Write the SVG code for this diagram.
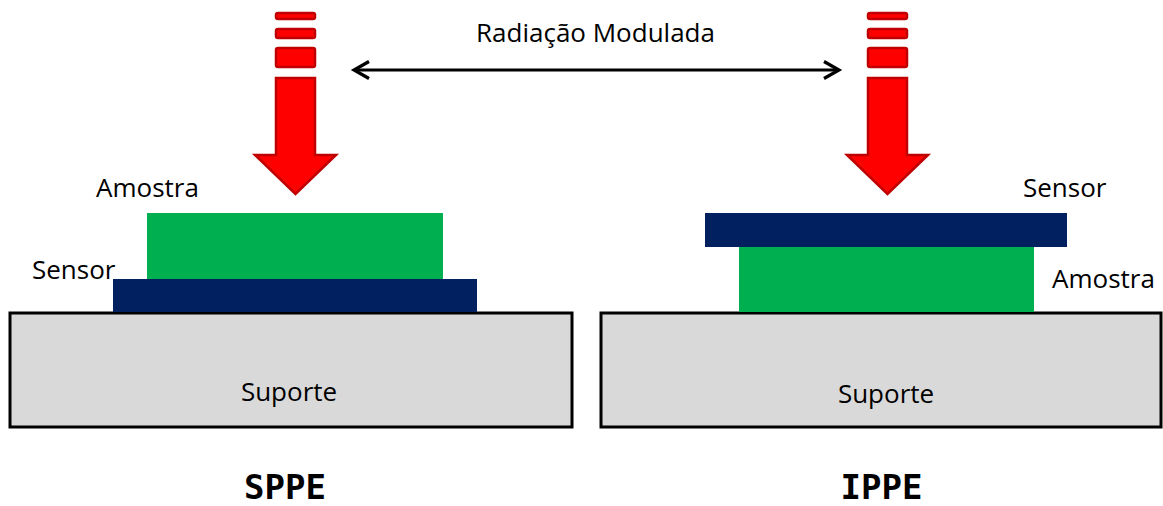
<svg xmlns="http://www.w3.org/2000/svg" width="1163" height="506" viewBox="0 0 1163 506">
  <style>
    .lbl { font-family: "Open Sans", "Liberation Sans", sans-serif; font-size: 26px; fill: #000; }
    .title { font-family: "DejaVu Sans Mono", "Liberation Mono", monospace; font-weight: bold; font-size: 34px; fill: #000; }
    .red { fill: #FF0000; stroke: #C00000; stroke-width: 2.5; }
    .support { fill: #D9D9D9; stroke: #000; stroke-width: 3; }
    .sample { fill: #00B050; }
    .sensor { fill: #002060; }
  </style>
  <defs>
    <g id="radArrow">
      <rect class="red" x="-19.5" y="13" width="39" height="6" rx="2"/>
      <rect class="red" x="-19.5" y="29" width="39" height="9" rx="2"/>
      <rect class="red" x="-19.5" y="48" width="39" height="19" rx="2"/>
      <polygon class="red" points="-19.5,78 19.5,78 19.5,155 40.5,155 0,194 -40.5,155 -19.5,155"/>
    </g>
  </defs>
  <rect width="1163" height="506" fill="#fff"/>

  <g id="radiation-left">
    <use href="#radArrow" x="295.5" y="0"/>
  </g>
  <g id="radiation-right">
    <use href="#radArrow" x="887.5" y="0"/>
  </g>

  <g id="connectors">
    <line x1="354" y1="70" x2="839" y2="70" stroke="#000" stroke-width="3"/>
    <polyline points="369,61.5 354,70 369,78.5" fill="none" stroke="#000" stroke-width="3.2" stroke-linejoin="miter"/>
    <polyline points="824,61.5 839,70 824,78.5" fill="none" stroke="#000" stroke-width="3.2" stroke-linejoin="miter"/>
  </g>
  <g id="label-radiation">
    <text class="lbl" x="595.5" y="42" text-anchor="middle">Radiação Modulada</text>
  </g>

  <g id="sppe">
    <g id="sppe-support">
      <rect class="support" x="10" y="313" width="562" height="114"/>
      <text class="lbl" x="289" y="401" text-anchor="middle">Suporte</text>
    </g>
    <g id="sppe-sensor">
      <rect class="sensor" x="113" y="279" width="364" height="33"/>
      <text class="lbl" x="32" y="279">Sensor</text>
    </g>
    <g id="sppe-sample">
      <rect class="sample" x="147" y="213" width="296" height="66"/>
      <text class="lbl" x="96" y="197">Amostra</text>
    </g>
    <text class="title" x="285" y="499" text-anchor="middle">SPPE</text>
  </g>

  <g id="ippe">
    <g id="ippe-support">
      <rect class="support" x="601" y="313" width="560" height="114"/>
      <text class="lbl" x="886" y="403" text-anchor="middle">Suporte</text>
    </g>
    <g id="ippe-sample">
      <rect class="sample" x="739" y="247" width="295" height="65"/>
      <text class="lbl" x="1052" y="288">Amostra</text>
    </g>
    <g id="ippe-sensor">
      <rect class="sensor" x="705" y="213" width="362" height="34"/>
      <text class="lbl" x="1023" y="197">Sensor</text>
    </g>
    <text class="title" x="881.5" y="499" text-anchor="middle">IPPE</text>
  </g>
</svg>
